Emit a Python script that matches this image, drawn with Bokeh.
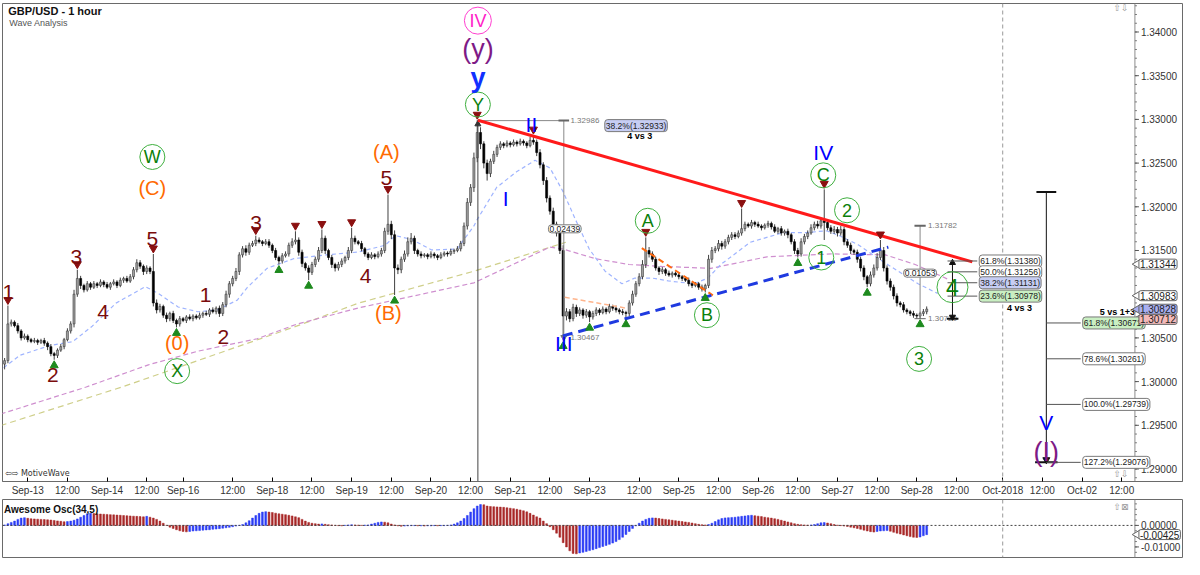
import math
from bokeh.plotting import figure
from bokeh.models import Range1d, FixedTicker, Span, Label
from bokeh.layouts import column
from bokeh.embed import file_html
from bokeh.resources import INLINE
from bokeh.core.properties import value

# ---------------- DATA ----------------
# bars are indexed by trading hour; hour 0 = Sep-13 00:00 (weekends removed)
FIRST_HOUR = -7
FIRST_OPEN = 1.3020

close = [
    1.3024, 1.3066, 1.3068, 1.3064, 1.3058, 1.3050, 1.3052, 1.3048, 1.3046, 1.3047,
    1.3045, 1.3047, 1.3044, 1.3040, 1.3032, 1.3030, 1.3036, 1.3040, 1.3048, 1.3058,
    1.3066, 1.3100, 1.3118, 1.3110, 1.3105, 1.3112, 1.3108, 1.3112, 1.3110, 1.3114,
    1.3111, 1.3108, 1.3112, 1.3114, 1.3110, 1.3116, 1.3118, 1.3115, 1.3120, 1.3128,
    1.3136, 1.3132, 1.3126, 1.3130, 1.3126, 1.3090, 1.3082, 1.3086, 1.3076, 1.3072,
    1.3078, 1.3070, 1.3066, 1.3072, 1.3070, 1.3074, 1.3072, 1.3075, 1.3073, 1.3076,
    1.3078, 1.3077, 1.3082, 1.3080, 1.3084, 1.3078, 1.3088, 1.3100, 1.3112, 1.3118,
    1.3126, 1.3145, 1.3152, 1.3148, 1.3156, 1.3158, 1.3162, 1.3160, 1.3158, 1.3160,
    1.3156, 1.3150, 1.3142, 1.3138, 1.3144, 1.3146, 1.3156, 1.3160, 1.3162, 1.3148,
    1.3135, 1.3130, 1.3125, 1.3134, 1.3140, 1.3150, 1.3164, 1.3150, 1.3142, 1.3134,
    1.3130, 1.3134, 1.3138, 1.3142, 1.3150, 1.3164, 1.3160, 1.3158, 1.3152, 1.3146,
    1.3142, 1.3145, 1.3143, 1.3146, 1.3150, 1.3172, 1.3180, 1.3168, 1.3130, 1.3128,
    1.3140, 1.3146, 1.3160, 1.3164, 1.3150, 1.3146, 1.3144, 1.3145, 1.3143, 1.3146,
    1.3144, 1.3142, 1.3145, 1.3147, 1.3146, 1.3149, 1.3150, 1.3152, 1.3158, 1.3178,
    1.3205, 1.3222, 1.3256, 1.3285, 1.3272, 1.3250, 1.3238, 1.3252, 1.3260, 1.3268,
    1.3272, 1.3270, 1.3273, 1.3271, 1.3274, 1.3272, 1.3275, 1.3273, 1.3270, 1.3276,
    1.3274, 1.3262, 1.3248, 1.3230, 1.3210, 1.3195, 1.3180, 1.3170, 1.3150, 1.3075,
    1.3080, 1.3072, 1.3085, 1.3078, 1.3082, 1.3076, 1.3080, 1.3074, 1.3078, 1.3082,
    1.3079, 1.3083, 1.3080, 1.3086, 1.3084, 1.3082, 1.3080, 1.3079, 1.3078, 1.3090,
    1.3100, 1.3112, 1.3120, 1.3134, 1.3150, 1.3146, 1.3140, 1.3130, 1.3126, 1.3128,
    1.3124, 1.3122, 1.3124, 1.3122, 1.3120, 1.3118, 1.3116, 1.3112, 1.3110, 1.3112,
    1.3108, 1.3106, 1.3110, 1.3140, 1.3150, 1.3152, 1.3158, 1.3155, 1.3160, 1.3165,
    1.3168, 1.3166, 1.3170, 1.3175, 1.3180, 1.3178, 1.3182, 1.3180, 1.3178, 1.3176,
    1.3179, 1.3181, 1.3177, 1.3172, 1.3175, 1.3170, 1.3172, 1.3168, 1.3160, 1.3150,
    1.3146, 1.3160, 1.3166, 1.3170, 1.3176, 1.3180, 1.3178, 1.3184, 1.3182, 1.3176,
    1.3172, 1.3174, 1.3170, 1.3174, 1.3160, 1.3156, 1.3150, 1.3148, 1.3140, 1.3130,
    1.3120, 1.3112, 1.3122, 1.3130, 1.3142, 1.3150, 1.3130, 1.3115, 1.3108, 1.3098,
    1.3090, 1.3088, 1.3082, 1.3080, 1.3078, 1.3076, 1.3075, 1.3078, 1.3080, 1.3083,
]

# upper / lower wick lengths in pips (0.0001)
wick_hi = [
    3, 21, 3, 2, 3, 2, 3, 2, 2, 3,
    2, 2, 3, 2, 3, 2, 2, 3, 2, 3,
    3, 5, 10, 3, 2, 3, 2, 3, 2, 3,
    2, 3, 2, 3, 2, 3, 2, 3, 3, 3,
    4, 3, 2, 3, 2, 20, 4, 3, 2, 3,
    2, 3, 2, 3, 2, 2, 3, 2, 2, 3,
    2, 3, 2, 3, 2, 3, 3, 4, 3, 3,
    4, 3, 3, 4, 3, 3, 5, 3, 2, 3,
    3, 2, 3, 2, 3, 3, 3, 4, 10, 3,
    3, 2, 3, 3, 3, 4, 10, 3, 2, 3,
    2, 3, 3, 2, 4, 12, 3, 2, 3, 2,
    2, 3, 2, 3, 3, 4, 34, 4, 5, 4,
    3, 4, 5, 6, 3, 2, 3, 2, 2, 3,
    2, 2, 3, 2, 2, 3, 2, 3, 3, 4,
    5, 4, 6, 14, 6, 3, 4, 3, 4, 3,
    3, 2, 3, 2, 3, 2, 3, 2, 2, 4,
    6, 3, 4, 3, 4, 3, 4, 3, 3, 6,
    4, 3, 4, 3, 3, 2, 3, 2, 3, 3,
    2, 3, 2, 3, 2, 3, 2, 3, 2, 3,
    4, 3, 4, 5, 15, 4, 3, 3, 2, 3,
    2, 3, 2, 2, 3, 2, 2, 3, 2, 2,
    2, 3, 2, 5, 4, 3, 4, 3, 3, 3,
    3, 3, 3, 23, 3, 2, 3, 2, 3, 2,
    2, 3, 2, 3, 2, 3, 2, 3, 2, 3,
    3, 4, 3, 3, 4, 3, 4, 3, 36, 4,
    3, 4, 3, 4, 3, 3, 3, 2, 3, 3,
    3, 2, 4, 4, 5, 12, 4, 3, 3, 3,
    3, 2, 3, 2, 2, 3, 2, 2, 3, 3,
]
wick_lo = [
    6, 3, 3, 2, 3, 3, 2, 3, 2, 2,
    3, 2, 3, 4, 3, 5, 3, 2, 3, 2,
    3, 4, 3, 4, 3, 2, 3, 2, 3, 2,
    3, 2, 3, 2, 3, 2, 3, 2, 2, 3,
    3, 3, 4, 3, 3, 4, 4, 3, 3, 4,
    3, 3, 4, 3, 2, 3, 2, 3, 2, 2,
    3, 2, 3, 2, 3, 4, 3, 3, 4, 3,
    3, 4, 3, 4, 3, 2, 3, 2, 3, 2,
    3, 3, 3, 4, 3, 2, 3, 3, 3, 4,
    4, 3, 9, 3, 3, 3, 3, 4, 3, 4,
    4, 3, 3, 3, 3, 3, 3, 2, 3, 3,
    3, 2, 3, 2, 3, 3, 4, 5, 31, 5,
    4, 3, 3, 3, 4, 3, 3, 2, 3, 2,
    3, 3, 2, 2, 3, 2, 3, 2, 3, 3,
    4, 4, 5, 5, 6, 6, 8, 4, 3, 3,
    3, 3, 2, 3, 2, 3, 2, 3, 3, 2,
    3, 4, 4, 5, 5, 4, 5, 4, 4, 28,
    5, 4, 3, 4, 3, 4, 3, 6, 3, 3,
    3, 2, 3, 2, 3, 3, 3, 3, 6, 3,
    3, 3, 3, 3, 4, 4, 3, 3, 4, 3,
    3, 2, 3, 2, 3, 3, 2, 3, 3, 2,
    3, 3, 4, 3, 4, 3, 3, 4, 3, 3,
    3, 3, 2, 3, 3, 2, 3, 3, 2, 3,
    2, 3, 3, 2, 3, 3, 3, 4, 3, 4,
    4, 3, 3, 3, 2, 3, 3, 3, 20, 3,
    3, 3, 4, 3, 4, 3, 4, 3, 4, 4,
    4, 4, 3, 3, 3, 3, 4, 4, 4, 4,
    4, 3, 3, 3, 3, 3, 3, 3, 3, 3,
]

# Awesome Oscillator (34,5), in units of 0.0001
ao_pips = [
    2, 8, 14, 20, 28, 34, 36, 33, 31, 30,
    29, 28, 27, 26, 25, 23, 21, 19, 17, 18,
    20, 24, 30, 38, 46, 54, 57, 55, 54, 53,
    52, 51, 50, 49, 48, 47, 46, 45, 44, 43,
    42, 41, 40, 42, 38, 34, 28, 20, 10, 0,
    -8, -14, -20, -25, -28, -30, -28, -26, -25, -24,
    -22, -21, -20, -18, -17, -15, -13, -11, -9, -6,
    -3, 0, 4, 12, 22, 34, 46, 56, 62, 64,
    62, 60, 57, 54, 52, 50, 47, 44, 40, 36,
    28, 20, 14, 10, 8, 6, 7, 5, 3, 2,
    0, -1, -2, 0, 2, 3, 2, 1, 0, 1,
    2, 6, 10, 14, 16, 15, 12, 6, 2, -2,
    -4, -3, -2, -1, -1, -2, -2, -3, -2, -2,
    -1, -2, -1, -1, 0, 2, 6, 12, 20, 32,
    46, 62, 78, 90, 97, 96, 90, 88, 87, 86,
    85, 84, 82, 80, 78, 75, 72, 68, 63, 56,
    48, 40, 34, 20, 8, -6, -20, -36, -55, -80,
    -100, -118, -130, -132, -128, -125, -121, -117, -113, -108,
    -103, -98, -93, -88, -82, -75, -66, -55, -42, -28,
    -14, -2, 10, 20, 28, 33, 35, 34, 32, 30,
    28, 26, 24, 22, 20, 18, 16, 14, 11, 8,
    5, 3, 2, 4, 10, 18, 26, 32, 35, 36,
    37, 38, 40, 42, 44, 46, 47, 45, 43, 41,
    38, 36, 34, 31, 28, 24, 20, 16, 12, 8,
    5, 3, 2, 1, 2, 4, 8, 12, 13, 11,
    8, 4, 1, -1, -3, -5, -8, -11, -14, -18,
    -22, -26, -29, -31, -28, -26, -25, -24, -27, -32,
    -36, -40, -44, -48, -52, -55, -56, -54, -48, -43,
]

tick_hours = [0, 12, 24, 36, 47, 62, 74, 86, 98, 110, 122, 134, 146, 158, 170, 185,
              197, 209, 221, 233, 245, 257, 269, 281, 295, 307, 319, 331]
tick_labels = ["Sep-13", "12:00", "Sep-14", "12:00", "Sep-16", "12:00", "Sep-18", "12:00",
               "Sep-19", "12:00", "Sep-20", "12:00", "Sep-21", "12:00", "Sep-23", "12:00",
               "Sep-25", "12:00", "Sep-26", "12:00", "Sep-27", "12:00", "Sep-28", "12:00",
               "Oct-2018", "12:00", "Oct-02", "12:00"]
month_break_hour = 295

price_ticks = [1.290, 1.295, 1.300, 1.305, 1.310, 1.315, 1.320, 1.325, 1.330, 1.335, 1.340]
ao_ticks = [0.0, -0.01]

# moving averages (hour, price)
ma_fast_h = [-7.3, -2.3, 6.7, 13.6, 19.5, 26.7, 35.6, 39.5, 45.5, 51.4, 57.4, 63.4, 66.4, 72.4,
             80.4, 90.3, 100.1, 108.2, 111.2, 116.2, 122.2, 129.9, 135.0, 135.9, 141.9, 147.9,
             153.5, 158.0, 161.9, 165.8, 169.9, 174.7, 179.8, 183.7, 188.8, 193.8, 201.6, 205.8,
             209.7, 218.6, 228.5, 235.6, 241.6, 245.5, 251.5, 257.4, 263.4, 269.4, 275.3]
ma_fast_p = [1.30159, 1.30302, 1.30413, 1.30457, 1.30634, 1.30898, 1.31086, 1.31009, 1.30854,
             1.30799, 1.30821, 1.30932, 1.31075, 1.31296, 1.31406, 1.31450, 1.31483, 1.31561,
             1.31671, 1.31627, 1.31506, 1.31517, 1.31781, 1.31848, 1.32223, 1.32400, 1.32532,
             1.32444, 1.32179, 1.31848, 1.31517, 1.31263, 1.31119, 1.31185, 1.31185, 1.31152,
             1.31119, 1.31185, 1.31340, 1.31594, 1.31704, 1.31704, 1.31726, 1.31671, 1.31561,
             1.31406, 1.31263, 1.31119, 1.31009]
ma_slow_h = [-8.2, 17.7, 36.5, 51.4, 69.4, 81.3, 100.1, 135.0, 158.0, 161.9, 171.8, 181.9,
             191.8, 206.7, 223.7, 243.4, 259.5, 268.5, 278.3]
ma_slow_p = [1.29629, 1.29938, 1.30192, 1.30347, 1.30490, 1.30656, 1.30843, 1.31130, 1.31539,
             1.31517, 1.31406, 1.31340, 1.31318, 1.31296, 1.31428, 1.31461, 1.31450, 1.31340,
             1.31174]
ma_mid_h = [-8.2, 28.5, 81.3, 100.1, 135.0, 162.8]
ma_mid_p = [1.29497, 1.29938, 1.30634, 1.30898, 1.31263, 1.31594]

# wave pivots (hours of bars carrying a marker)
pivot_high_hours = [-6, 15, 38, 69, 81, 89, 98, 109, 136, 153, 187, 216, 241, 258]
pivot_low_hours = [8, 45, 76, 85, 111, 162, 170, 181, 205, 233, 254, 270]

# wave labels (hour, price)
minor_labels = ["1", "2", "3", "4", "5", "1", "2", "3", "4", "5"]
minor_h = [-5.9, 7.6, 14.7, 22.8, 37.7, 53.8, 59.2, 69.1, 102.2, 108.5]
minor_p = [1.3102, 1.3007, 1.3143, 1.3080, 1.3163, 1.3099, 1.3051, 1.3182, 1.3121, 1.3233]

inter_labels = ["(C)", "(0)", "(A)", "(B)"]
inter_h = [37.7, 45.2, 108.5, 109.1]
inter_p = [1.3222, 1.3044, 1.3263, 1.3079]

circ_labels = ["W", "X", "Y", "A", "B", "C", "2", "1", "3"]
circ_h = [37.7, 45.2, 136.2, 187.6, 205.5, 240.7, 247.9, 240.1, 269.7]
circ_p = [1.3257, 1.3012, 1.3317, 1.3184, 1.3076, 1.3236, 1.3196, 1.3142, 1.3026]
circ4_h, circ4_p = 279.8, 1.3108

roman_labels = ["II", "I", "III", "IV", "V"]
roman_h = [152.4, 144.6, 162.2, 240.7, 308.2]
roman_p = [1.3294, 1.3209, 1.3044, 1.3262, 1.2953]

# trend lines / channels (hour, price)
trend_h, trend_p = [136.2, 285.8], [1.3299, 1.3137]
support_h, support_p = [161.9, 260.4], [1.30523, 1.31539]
abline_h, abline_p = [185.8, 207.3], [1.31528, 1.30987]
flag_h, flag_p = [162.5, 180.7], [1.30965, 1.30843]

# measurements
y_high, iii_low, meas1_size = 1.32986, 1.30467, 0.02439
meas2_top, meas2_low, meas2_size = 1.31782, 1.30720, 0.01053
fib4_levels = [1.31380, 1.31256, 1.31131, 1.30978]
fib4_names = ["61.8%", "50.0%", "38.2%", "23.6%"]
fib5_levels = [1.30671, 1.30261, 1.29739, 1.29076]
fib5_names = ["61.8%", "78.6%", "100.0%", "127.2%"]
fib5_top = 1.32168
price_tags = [1.31344, 1.30983, 1.30828, 1.30712]
ao_last = -0.00425

# ---------------- BUILD ----------------
FONT_NAME = "Liberation Sans"
FONT = value(FONT_NAME)
n = len(close)
hours = list(range(FIRST_HOUR, FIRST_HOUR + n))
opens = [FIRST_OPEN] + close[:-1]
highs = [max(o, c) + w * 1e-4 for o, c, w in zip(opens, close, wick_hi)]
lows = [min(o, c) - w * 1e-4 for o, c, w in zip(opens, close, wick_lo)]
ao = [v * 1e-4 for v in ao_pips]

X0, X1 = -7.64, 349.4          # frame spans the whole width; price scale drawn at AXIS_H
AXIS_H = 335.0
PXH = 1180 / (X1 - X0)         # pixels per hour
PY0, PY1 = 1.28857, 1.34326
AY0, AY1 = -0.01491, 0.01204

p = figure(frame_width=1180, frame_height=478, x_range=Range1d(X0, X1),
           y_range=Range1d(PY0, PY1), output_backend="svg", toolbar_location=None,
           y_axis_location=None, min_border_left=2, min_border_right=2,
           min_border_top=3, min_border_bottom=0)
p.grid.visible = False
p.outline_line_color = "#6a6a6a"
p.background_fill_color = "white"

xa = p.xaxis[0]
xa.ticker = FixedTicker(ticks=tick_hours)
xa.major_label_overrides = {h: t for h, t in zip(tick_hours, tick_labels)}
xa.major_label_text_font = FONT_NAME
xa.major_label_text_font_size = "10px"
xa.major_label_text_color = "#333333"
xa.major_tick_in = 4
xa.major_tick_out = 0
xa.minor_tick_out = 0
xa.minor_tick_in = 0
xa.axis_line_color = "#6a6a6a"
xa.major_label_standoff = 3


def value_scale(fig, lo, hi, majors, minor_step, fmt):
    """price scale drawn at AXIS_H (right side of the chart area)"""
    fig.line([AXIS_H, AXIS_H], [lo, hi], line_color="#8c8c8c", line_width=1)
    k0 = math.ceil(lo / minor_step)
    minors = [k * minor_step for k in range(k0, int(hi / minor_step) + 1)]
    fig.segment(x0=[AXIS_H] * len(minors), y0=minors, x1=[AXIS_H + 2 / PXH] * len(minors),
                y1=minors, line_color="#777777", line_width=1)
    fig.segment(x0=[AXIS_H] * len(majors), y0=majors, x1=[AXIS_H + 4 / PXH] * len(majors),
                y1=majors, line_color="#555555", line_width=1)
    fig.text([AXIS_H + 6 / PXH] * len(majors), majors, text=[fmt % v for v in majors],
             text_font=FONT, text_font_size=value("10px"), text_color="#333333",
             text_baseline="middle", text_align="left")


def tag(fig, y, text, fill):
    fig.scatter([AXIS_H + 2.5 / PXH], [y], marker="triangle", angle=math.pi / 2, size=9,
                fill_color=fill, line_color="#666666", line_width=1)
    fig.add_layout(Label(x=AXIS_H + 4 / PXH, y=y, text=text, text_font=FONT_NAME,
                         text_font_size="10px", text_color="#222222", text_baseline="middle",
                         text_align="left", background_fill_color=fill,
                         border_line_color="#666666", border_line_width=1, border_radius=2,
                         padding=1))


p.add_layout(Span(location=month_break_hour, dimension="height", line_color="#9a9a9a",
                  line_dash="4 3", line_width=1))

# moving averages
p.line(ma_mid_h, ma_mid_p, line_color="#cfcf8a", line_dash="6 4", line_width=1.2)
p.line(ma_slow_h, ma_slow_p, line_color="#cf8fcf", line_dash="5 3", line_width=1.2)
p.line(ma_fast_h, ma_fast_p, line_color="#9fb4ff", line_dash="4 3", line_width=1.2)

# candles
up = [c >= o for o, c in zip(opens, close)]
p.segment(x0=hours, y0=lows, x1=hours, y1=highs, line_color="#404040", line_width=1)
uh = [h for h, u in zip(hours, up) if u]
dh = [h for h, u in zip(hours, up) if not u]
p.vbar(x=uh, width=0.62, top=[c for c, u in zip(close, up) if u],
       bottom=[o for o, u in zip(opens, up) if u], fill_color="#a0a0a0", line_color="#3a3a3a",
       line_width=0.6)
p.vbar(x=dh, width=0.62, top=[o for o, u in zip(opens, up) if not u],
       bottom=[c for c, u in zip(close, up) if not u], fill_color="#000000",
       line_color="#000000", line_width=0.6)

# measurement Y -> III
p.line([136.2, 136.2], [y_high, PY0], line_color="#444444", line_width=1)
p.line([136.2, 162.2], [y_high, y_high], line_color="#888888", line_width=1)
p.line([162.2, 162.2], [y_high, iii_low], line_color="#888888", line_width=1)
p.line([160.6, 163.8], [y_high, y_high], line_color="#666666", line_width=2)
p.scatter([162.2], [iii_low + 0.0004], marker="inverted_triangle", size=6, color="#777777")
p.scatter([136.2], [y_high - 0.0004], marker="triangle", size=6, color="#333333")
p.text([164.2], [y_high], text=["%.5f" % y_high], text_font=FONT, text_font_size=value("8px"),
       text_color="#777777", text_baseline="middle")
p.text([164.2], [iii_low + 0.0004], text=["%.5f" % iii_low], text_font=FONT,
       text_font_size=value("8px"), text_color="#777777", text_baseline="middle")

# measurement 2
p.line([270.0, 270.0], [meas2_top, meas2_low], line_color="#888888", line_width=1)
p.line([268.3, 271.7], [meas2_top, meas2_top], line_color="#666666", line_width=2)
p.line([268.3, 271.7], [meas2_low, meas2_low], line_color="#666666", line_width=1)
p.text([272.4], [meas2_top], text=["%.5f" % meas2_top], text_font=FONT,
       text_font_size=value("8px"), text_color="#777777", text_baseline="middle")
p.text([272.4], [meas2_low], text=["%.5f" % meas2_low], text_font=FONT,
       text_font_size=value("8px"), text_color="#777777", text_baseline="middle")


def box(fig, x, y, text, fill="white", size="8.5px", align="center", color="#222222"):
    fig.add_layout(Label(x=x, y=y, text=text, text_font=FONT_NAME, text_font_size=size,
                         text_color=color, text_baseline="middle", text_align=align,
                         background_fill_color=fill, border_line_color="#7a7a7a",
                         border_line_width=1, border_radius=3, padding=1))


box(p, 162.5, 1.31748, "%.5f" % meas1_size)
box(p, 270.0, 1.31241, "%.5f" % meas2_size)
box(p, 174.6, 1.32929, "38.2%%(%.5f)" % 1.32933, fill="#c6cdf3", align="left")
p.text([185.2], [1.32808], text=["4 vs 3"], text_font=FONT, text_font_size=value("9px"),
       text_font_style="bold", text_align="center", text_baseline="middle")

# trend lines
p.line(flag_h, flag_p, line_color="#ffb48c", line_dash="5 3", line_width=1.5)
p.line(abline_h, abline_p, line_color="#ff6a10", line_dash="6 4", line_width=2)
p.line(support_h, support_p, line_color="#1f3ae0", line_dash="10 6", line_width=3)
p.line(trend_h, trend_p, line_color="#ff1a1a", line_width=3)

# fib 4 vs 3
p.line([279.8, 279.8], [fib4_levels[0], meas2_low], line_color="#111111", line_width=1)
p.line([278.1, 281.6], [meas2_low, meas2_low], line_color="#111111", line_width=2)
p.scatter([279.8], [fib4_levels[0] - 0.0002], marker="triangle", size=6, color="#111111")
p.scatter([279.8], [meas2_low + 0.0002], marker="inverted_triangle", size=6, color="#111111")
fib_fill = ["white", "white", "#c6cdf3", "#c9efc2"]
for lvl, nm, f in zip(fib4_levels, fib4_names, fib_fill):
    p.line([278.3, 287.3], [lvl, lvl], line_color="#555555", line_width=1)
    box(p, 287.9, lvl, "%s(%.5f)" % (nm, lvl), fill=f, align="left")
p.text([300.1], [1.30843], text=["4 vs 3"], text_font=FONT, text_font_size=value("9px"),
       text_font_style="bold", text_align="center", text_baseline="middle")

# fib 5 vs 1+3
p.line([308.2, 308.2], [fib5_top, fib5_levels[-1]], line_color="#111111", line_width=1)
p.line([305.2, 311.2], [fib5_top, fib5_top], line_color="#111111", line_width=2)
p.line([304.8, 311.6], [fib5_levels[-1], fib5_levels[-1]], line_color="#111111", line_width=2)
p.scatter([308.2], [fib5_levels[-1] + 0.0003], marker="inverted_triangle", size=7, color="#111111")
fib5_fill = ["#c9efc2", "white", "white", "white"]
for lvl, nm, f in zip(fib5_levels, fib5_names, fib5_fill):
    p.line([308.2, 318.6], [lvl, lvl], line_color="#555555", line_width=1)
    box(p, 319.2, lvl, "%s(%.5f)" % (nm, lvl), fill=f, align="left")
p.text([329.7], [1.30799], text=["5 vs 1+3"], text_font=FONT, text_font_size=value("9px"),
       text_font_style="bold", text_align="center", text_baseline="middle")

# pivots
idx = {h: i for i, h in enumerate(hours)}
p.scatter(pivot_high_hours, [highs[idx[h]] + 0.00065 for h in pivot_high_hours],
          marker="inverted_triangle", size=8, color="#8b1010")
p.scatter(pivot_low_hours, [lows[idx[h]] - 0.00065 for h in pivot_low_hours],
          marker="triangle", size=8, color="#1e8a1e")

# labels
p.text(minor_h, minor_p, text=minor_labels, text_font=FONT, text_font_size=value("21px"),
       text_color="#7a0c0c", text_align="center", text_baseline="middle")
p.text(inter_h, inter_p, text=inter_labels, text_font=FONT, text_font_size=value("20px"),
       text_color="#ff6a00", text_align="center", text_baseline="middle")
p.scatter(circ_h, circ_p, marker="circle", size=25, fill_alpha=0.0,
          line_color="#3fb03f", line_width=1)
p.text(circ_h, circ_p, text=circ_labels, text_font=FONT, text_font_size=value("18px"),
       text_color="#0b800b", text_align="center", text_baseline="middle")
p.scatter([circ4_h], [circ4_p], marker="circle", size=31, fill_alpha=0.0,
          line_color="#3fb03f", line_width=1)
p.text([circ4_h], [circ4_p], text=["4"], text_font=FONT, text_font_size=value("23px"),
       text_color="#0b800b", text_align="center", text_baseline="middle")
p.text(roman_h, roman_p, text=roman_labels, text_font=FONT, text_font_size=value("21px"),
       text_color="#0000ff", text_align="center", text_baseline="middle")
p.text([136.2], [1.3347], text=["y"], text_font=FONT, text_font_size=value("27px"),
       text_font_style="bold", text_color="#1030ff", text_align="center", text_baseline="middle")
p.text([136.2, 308.2], [1.3380, 1.2919], text=["(y)", "(I)"], text_font=FONT,
       text_font_size=value("27px"), text_color="#7e1a86", text_align="center",
       text_baseline="middle")
p.scatter([136.2], [1.3413], marker="circle", size=27, fill_alpha=0.0, line_color="#ff40d0",
          line_width=1)
p.text([136.2], [1.3413], text=["IV"], text_font=FONT, text_font_size=value("18px"),
       text_color="#ff20c8", text_align="center", text_baseline="middle")

# header / footer texts
p.text([-5.9], [1.34236], text=["GBP/USD - 1 hour"], text_font=FONT,
       text_font_size=value("11px"), text_font_style="bold", text_color="#111111",
       text_baseline="middle")
p.text([-5.6], [1.34102], text=["Wave Analysis"], text_font=FONT,
       text_font_size=value("9px"), text_color="#555555", text_baseline="middle")
p.text([-6.9], [1.28945], text=["\u21e6\u21e8 MotiveWave"], text_font=value("DejaVu Sans"),
       text_font_size=value("8px"), text_color="#333333", text_baseline="middle")
p.text([330.8, 330.8], [1.34275, 1.28945], text=["\u21e7\u21e9", "\u21e7\u21e9"],
       text_font=value("DejaVu Sans"), text_font_size=value("9px"), text_color="#999999",
       text_baseline="middle", text_align="center")

# price scale and tags
value_scale(p, PY0, PY1, price_ticks, 0.001, "%.5f")
tag_fill = ["white", "white", "#a9aff0", "#f3b9b9"]
for v, f in zip(price_tags, tag_fill):
    tag(p, v, "%.5f" % v, f)

# ---------------- AO panel ----------------
q = figure(frame_width=1180, frame_height=58, x_range=p.x_range,
           y_range=Range1d(AY0, AY1), output_backend="svg", toolbar_location=None,
           y_axis_location=None, x_axis_location=None, min_border_left=2,
           min_border_right=2, min_border_top=1, min_border_bottom=2)
q.grid.visible = False
q.outline_line_color = "#6a6a6a"

ao_col = ["#2b3cf5" if (i == 0 or ao[i] >= ao[i - 1]) else "#a82828" for i in range(n)]
q.vbar(x=hours, width=0.55, top=[max(v, 0) for v in ao], bottom=[min(v, 0) for v in ao],
       fill_color=ao_col, line_color=ao_col, line_width=0.5)
q.line([X0, AXIS_H], [0, 0], line_color="#444444", line_dash="2 2", line_width=1)
q.add_layout(Span(location=month_break_hour, dimension="height", line_color="#9a9a9a",
                  line_dash="4 3", line_width=1))
q.text([-7.2], [0.0072], text=["Awesome Osc(34,5)"], text_font=FONT,
       text_font_size=value("10px"), text_font_style="bold", text_color="#111111",
       text_baseline="middle")
q.text([330.8], [0.0085], text=["\u21e7\u22a0"], text_font=value("DejaVu Sans"),
       text_font_size=value("9px"), text_color="#999999", text_baseline="middle",
       text_align="center")
value_scale(q, AY0, AY1, ao_ticks, 0.0025, "%.5f")
tag(q, ao_last, "%.5f" % ao_last, "white")

layout = column(p, q, spacing=0)
open("out.html", "w").write(file_html(layout, INLINE))
